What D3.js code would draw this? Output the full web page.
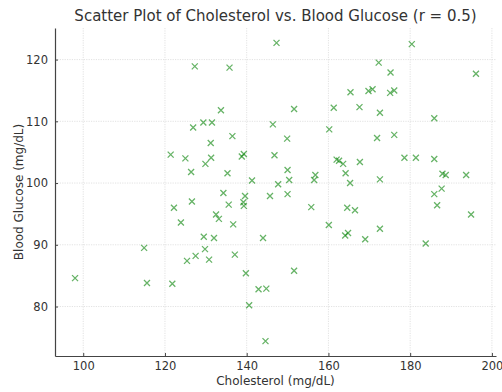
<!DOCTYPE html>
<html>
<head>
<meta charset="utf-8">
<script src="https://cdn.jsdelivr.net/npm/d3@7"></script>
<style>
  body { margin: 0; background: #fff; }
  svg { display: block; font-family: "DejaVu Sans", sans-serif; }
</style>
</head>
<body>
<div id="chart"></div>
<script>
// Cholesterol (mg/dL)
let cholesterol = [
    98.0, 114.9, 115.6, 121.8, 122.2, 123.9, 126.6, 125.4, 127.5, 127.3,
    126.9, 121.4, 125.0, 126.4, 135.8, 147.3, 133.7, 151.6, 161.3, 129.4,
    131.5, 136.5, 131.2, 146.4, 149.9, 160.2, 131.3, 129.9, 135.3, 138.8,
    139.3, 146.8, 141.3, 147.7, 150.0, 150.4, 156.8, 156.5, 162.0, 180.4,
    172.3, 175.2, 196.1, 165.4, 169.8, 170.8, 175.1, 176.1, 167.6, 172.6,
    185.9, 171.9, 176.1, 162.6, 163.6, 167.7, 178.6, 181.4, 185.9, 164.2,
    165.3, 172.6, 187.9, 188.7, 193.7, 187.7, 134.3, 135.6, 139.6, 139.2,
    139.3, 145.7, 150.0, 155.8, 160.1, 132.5, 133.2, 136.7, 129.5, 132.0,
    144.0, 129.8, 130.8, 137.1, 139.8, 151.6, 142.9, 144.8, 140.6, 144.6,
    185.9, 186.6, 194.9, 164.6, 166.5, 164.1, 164.8, 169.0, 172.6, 183.8
];
// Blood glucose (mg/dL), same order
let glucose = [
    84.6, 89.5, 83.8, 83.7, 96.0, 93.6, 97.0, 87.4, 88.2, 118.9,
    109.0, 104.6, 104.0, 101.8, 118.7, 122.7, 111.8, 112.0, 112.2, 109.8,
    109.8, 107.6, 106.5, 109.5, 107.2, 108.7, 104.1, 103.1, 101.6, 104.3,
    104.7, 104.5, 100.4, 99.8, 102.1, 100.5, 101.3, 100.5, 103.8, 122.5,
    119.5, 117.9, 117.7, 114.7, 114.9, 115.2, 114.6, 115.0, 112.3, 111.4,
    110.5, 107.3, 107.8, 103.6, 103.1, 103.4, 104.1, 104.1, 103.9, 101.6,
    100.0, 100.6, 101.5, 101.3, 101.3, 99.1, 98.4, 96.5, 97.9, 96.9,
    96.3, 97.9, 98.2, 96.1, 93.2, 94.9, 94.2, 93.3, 91.3, 91.1,
    91.1, 89.3, 87.6, 88.4, 85.4, 85.8, 82.8, 82.9, 80.2, 74.4,
    98.2, 96.4, 94.9, 96.0, 95.6, 91.5, 91.9, 90.9, 92.6, 90.2
];
let xTicks = [100, 120, 140, 160, 180, 200];
let yTicks = [80, 90, 100, 110, 120];

let width = 502, height = 392;
let margin = {top: 28, right: 6, bottom: 36, left: 55};
let innerW = width - margin.left - margin.right;
let innerH = height - margin.top - margin.bottom;

let data = cholesterol.map(function(c, i) { return {x: c, y: glucose[i]}; });

// Pad the data extent by 5% on each side
function padded(ext) {
    let pad = (ext[1] - ext[0]) * 0.05;
    return [ext[0] - pad, ext[1] + pad];
}

let x = d3.scaleLinear()
    .domain(padded(d3.extent(cholesterol)))
    .range([0, innerW]);

let y = d3.scaleLinear()
    .domain(padded(d3.extent(glucose)))
    .range([innerH, 0]);

let svg = d3.select('#chart')
    .append('svg')
    .attr('width', width)
    .attr('height', height);

let g = svg.append('g')
    .attr('transform', 'translate(' + margin.left + ',' + margin.top + ')');

// Grid
g.append('g')
    .selectAll('line')
    .data(xTicks)
    .enter().append('line')
    .attr('x1', d => x(d)).attr('x2', d => x(d))
    .attr('y1', 0).attr('y2', innerH)
    .attr('stroke', '#dadada')
    .attr('stroke-width', 0.8)
    .attr('stroke-dasharray', '1.2,1.2');

g.append('g')
    .selectAll('line')
    .data(yTicks)
    .enter().append('line')
    .attr('x1', 0).attr('x2', innerW)
    .attr('y1', d => y(d)).attr('y2', d => y(d))
    .attr('stroke', '#dadada')
    .attr('stroke-width', 0.8)
    .attr('stroke-dasharray', '1.2,1.2');

// Axes, ticks pointing inward
let xAxis = g.append('g')
    .attr('transform', 'translate(0,' + innerH + ')')
    .call(d3.axisBottom(x).tickValues(xTicks).tickSizeInner(-3).tickSizeOuter(0).tickPadding(6));

let yAxis = g.append('g')
    .call(d3.axisLeft(y).tickValues(yTicks).tickSizeInner(-3).tickSizeOuter(0).tickPadding(7));

[xAxis, yAxis].forEach(function(ax) {
    ax.select('.domain').attr('stroke', '#444').attr('stroke-width', 1.2);
    ax.selectAll('.tick line').attr('stroke', '#444');
    ax.selectAll('.tick text')
        .attr('fill', '#333')
        .attr('font-size', '11.5px')
        .attr('font-family', '"DejaVu Sans", sans-serif');
});

// Markers drawn as "x"
let s = 3;
let marks = g.append('g')
    .selectAll('path')
    .data(data)
    .enter().append('path')
    .attr('d', function(d) {
        let cx = x(d.x), cy = y(d.y);
        return 'M' + (cx - s) + ',' + (cy - s) + 'L' + (cx + s) + ',' + (cy + s) +
               'M' + (cx - s) + ',' + (cy + s) + 'L' + (cx + s) + ',' + (cy - s);
    })
    .attr('stroke', '#008000')
    .attr('stroke-opacity', 0.6)
    .attr('stroke-width', 1.3)
    .attr('fill', 'none');

// Title and labels
svg.append('text')
    .attr('x', margin.left + innerW / 2)
    .attr('y', 21)
    .attr('text-anchor', 'middle')
    .attr('font-size', '15px')
    .attr('fill', '#333')
    .text('Scatter Plot of Cholesterol vs. Blood Glucose (r = 0.5)');

svg.append('text')
    .attr('x', margin.left + innerW / 2)
    .attr('y', 385)
    .attr('text-anchor', 'middle')
    .attr('font-size', '12px')
    .attr('fill', '#333')
    .text('Cholesterol (mg/dL)');

svg.append('text')
    .attr('transform', 'translate(23,' + (margin.top + innerH / 2) + ') rotate(-90)')
    .attr('text-anchor', 'middle')
    .attr('font-size', '12px')
    .attr('fill', '#333')
    .text('Blood Glucose (mg/dL)');
</script>
</body>
</html>
